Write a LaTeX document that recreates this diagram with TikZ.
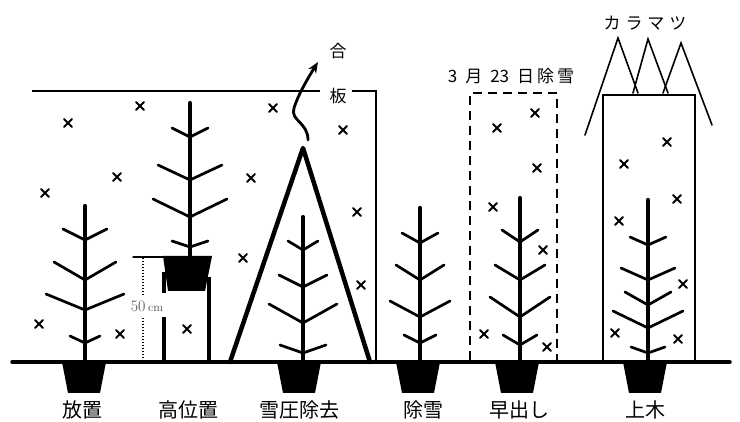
\documentclass[tikz,border=0pt]{standalone}
\usepackage{fontspec}
\newfontfamily\jp{Noto Sans CJK JP}
\usetikzlibrary{arrows.meta}

% a young tree: x, top, foot, list of branch pairs (join y / tip y / half width)
\newcommand\sapling[4]{%
  \draw[trunk] (#1,#3) -- (#1,#2);
  \foreach \yj/\yt/\w in {#4}
    \draw[branch] (#1-\w,\yt) -- (#1,\yj) -- (#1+\w,\yt);}
% pot sunk below the ground line
\newcommand\potfill[2]{%
  \fill (#1-22,#2) -- (#1+22,#2) -- (#1+16,#2+31) -- (#1-16,#2+31) -- cycle;}

\begin{document}
\begin{tikzpicture}[x=1pt,y=-1pt,line cap=round,
    trunk/.style={line width=4.2pt},
    branch/.style={line width=2.7pt},
    snowline/.style={line width=1.7pt,line cap=butt},
    flake/.style={line width=2.1pt},
    potname/.style={font=\jp\fontsize{20}{22}\selectfont,inner sep=0pt},
    smallname/.style={font=\jp\fontsize{17}{19}\selectfont,inner sep=0pt}]
\useasboundingbox (0,0) rectangle (740,422);

% snow cover and plywood
\draw[snowline] (32,91) -- (320,91);
\draw[snowline] (352,91) -- (376,91) -- (376,362);
\draw[line width=2.2pt,line cap=butt,dash pattern=on 9pt off 6pt]
  (470,360) -- (470,93) -- (557,93) -- (557,360);
\draw[snowline] (603,362) -- (603,95) -- (695,95) -- (695,362);

% larch crowns
\draw[line width=1.6pt] (585,135) -- (618,38) -- (638,93);
\draw[line width=1.6pt] (633,93) -- (648,39) -- (668,93);
\draw[line width=1.6pt] (663,93) -- (681,43) -- (712,125);

% snow flakes
\foreach \p in {(68,123),(140,106),(117,177),(45,193),(39,324),(120,334),(187,329),
                (273,108),(343,130),(251,178),(357,212),(243,258),(361,285),
                (535,113),(497,128),(537,168),(493,207),(543,250),(484,334),(547,347),
                (667,142),(624,164),(677,199),(619,221),(683,284),(615,333),(678,339)}
  \draw[flake,shift={\p}] (-4,-4) -- (4,4) (-4,4) -- (4,-4);

% ground
\draw[line width=3.5pt] (12,362) -- (730,362);
\foreach \x in {84,299,418,517,645} \potfill{\x}{362};

% raised stand
\draw[line width=1.3pt] (133,257) -- (165,257);
\fill (163,256) -- (212,256) -- (205,291) -- (168,291) -- cycle;
\draw[line width=4pt,line cap=butt] (209,277) -- (209,362) (164,272) -- (164,293) (164,317) -- (164,362);
\draw[line width=1.5pt,line cap=butt,dash pattern=on 1.5pt off 1.5pt] (143,258) -- (143,296) (143,318) -- (143,361);
\node[text=black!70,inner sep=0pt] (cm) at (147,306) {\fontsize{16}{16}\selectfont 50\,{\fontsize{12}{12}\selectfont cm}};

% trees
\sapling{85}{206}{362}{240/229/22,280/262/31,310/294/39,343/336/15}
\sapling{190}{103}{257}{137/128/18,180/165/32,217/199/37,247/241/18}
\sapling{303}{217}{362}{250/241/15,287/275/24,323/304/34,353/345/23}
\sapling{420}{208}{362}{243/233/18,280/265/24,317/301/30,343/335/16}
\sapling{520}{198}{362}{242/230/18,280/265/25,317/297/30,345/335/17}
\sapling{648}{200}{362}{245/237/18,280/268/27,305/292/23,328/311/35,353/347/17}

% snow press frame
\draw[line width=4.5pt,line join=round] (230,362) -- (303,148) -- (370,362);
\coordinate (apex) at (303,148);
\coordinate (tip) at (318,62);
\draw[line width=2.8pt,-{Stealth[length=11pt,width=9pt]}]
  ([shift={(5,-8)}]apex) .. controls (308,122) and (290,121) .. (294,108)
  .. controls (298,95) and (308,78) .. (tip);
\node[smallname] (go) at (338,51) {合};
\node[smallname] (ita) at (338,96) {板};

\node[smallname] (date) at (511,76) {3\hspace{8pt}月\hspace{8pt}23\hspace{8pt}日\kern3pt 除\kern3pt 雪};
\node[smallname] (larch) at (645,23) {カ\kern5pt ラ\kern5pt マ\kern5pt ツ};

% treatment names
\node[potname] (n1) at (83,410) {放置};
\node[potname] (n2) at (188,410) {高位置};
\node[potname] (n3) at (299,410) {雪圧除去};
\node[potname] (n4) at (423,410) {除雪};
\node[potname] (n5) at (519,410) {早出し};
\node[potname] (n6) at (645,410) {上木};
\end{tikzpicture}
\end{document}
